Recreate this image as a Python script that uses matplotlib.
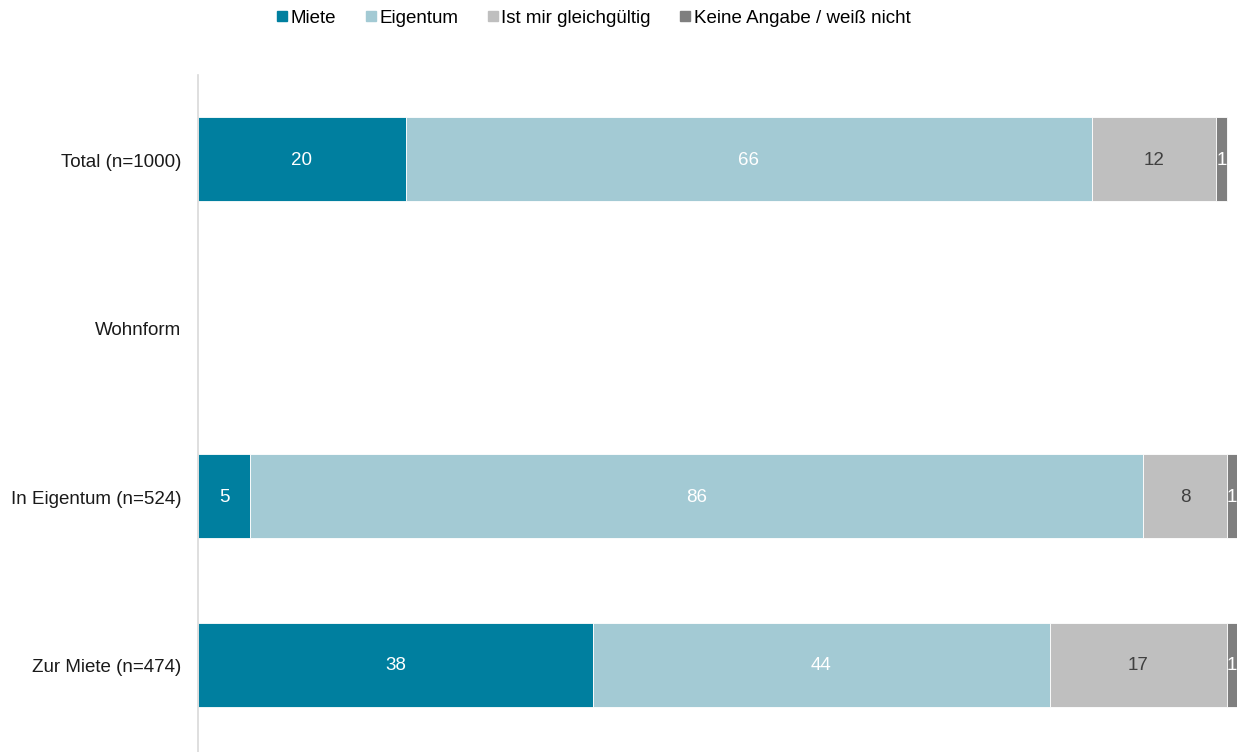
import matplotlib
matplotlib.use("Agg")
import matplotlib.pyplot as plt
from matplotlib.lines import Line2D

plt.rcParams['font.family'] = ['Liberation Sans', 'DejaVu Sans']

categories = ["Total (n=1000)", "Wohnform", "In Eigentum (n=524)", "Zur Miete (n=474)"]
series_names = ["Miete", "Eigentum", "Ist mir gleichgültig", "Keine Angabe / weiß nicht"]
miete = [20, None, 5, 38]
eigentum = [66, None, 86, 44]
gleich = [12, None, 8, 17]
keine = [1, None, 1, 1]

colors = ["#007f9f", "#a3cad4", "#bfbfbf", "#7f7f7f"]
text_colors = ["white", "white", "#404040", "white"]

fs = 13.5
fig = plt.figure(figsize=(12.4, 7.52), dpi=100)
ax = fig.add_axes([198/1240, 0, 1039/1240, 677/752])

series = [miete, eigentum, gleich, keine]
ypos = list(range(len(categories)))
left = [0.0] * len(categories)
for s, col, tc in zip(series, colors, text_colors):
    for i, v in enumerate(s):
        if v is None:
            continue
        ax.barh(ypos[i], v, left=left[i], height=0.5, color=col, edgecolor="white", linewidth=0.6)
        ax.text(left[i] + v / 2, ypos[i] + 0.006, str(v), ha="center", va="center", fontsize=fs, color=tc)
        left[i] += v

ax.set_xlim(0, 100)
ax.set_ylim(3.516, -0.498)
ax.set_yticks([y + 0.006 for y in ypos])
ax.set_yticklabels(categories, fontsize=fs, color="#1a1a1a")
ax.tick_params(axis="y", length=0, pad=12)
ax.set_xticks([])
for sp in ["top", "right", "bottom"]:
    ax.spines[sp].set_visible(False)
ax.spines["left"].set_color("#d9d9d9")
ax.spines["left"].set_linewidth(1.2)

handles = [Line2D([0], [0], marker="s", linestyle="none", markersize=7.5,
                  markerfacecolor=c, markeredgecolor=c) for c in colors]
fig.legend(handles, series_names, loc="center", bbox_to_anchor=(0.4786, 1 - 18/752),
           ncol=4, frameon=False, fontsize=fs, handlelength=0.6, handletextpad=0.15,
           columnspacing=1.55, borderaxespad=0)

fig.savefig("out.png", dpi=100)
